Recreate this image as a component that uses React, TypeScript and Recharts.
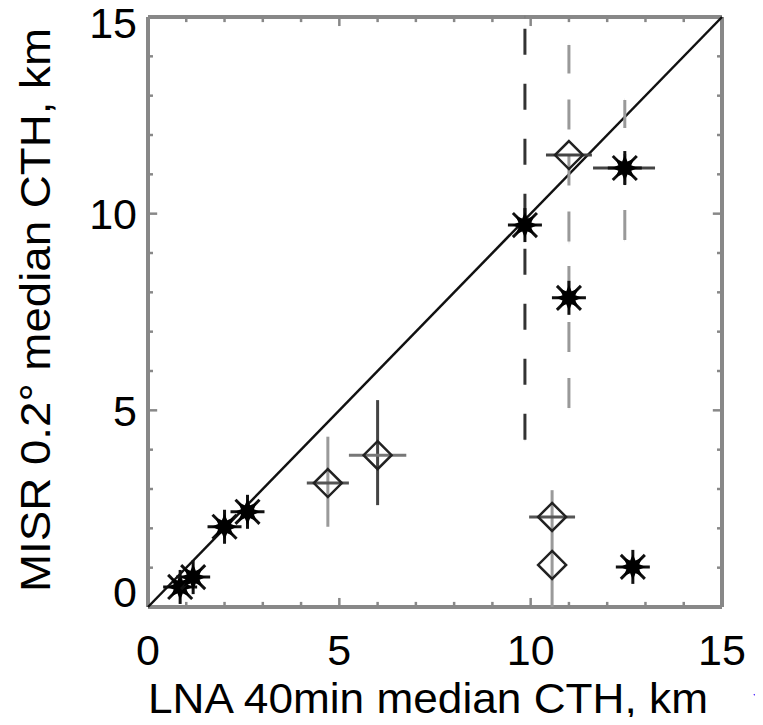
import React from "react";
import { ScatterChart, Scatter, XAxis, YAxis, ErrorBar, ReferenceLine, Label } from "recharts";

// asterisks without error bars (LNA x, MISR y, km)
const starLna = [0.84, 1.18, 2.0, 2.6, 12.67];
const starMisr = [0.51, 0.76, 2.04, 2.42, 1.02];

// asterisks with error bars
const barStarLna = [9.85, 11.0, 12.46];
const barStarMisr = [9.71, 7.86, 11.16];
const barStarLow = [5.46, 2.8, 1.83];
const barStarHigh = [5.29, 1.4, 1.73];
const barStarXLow = [0, 0, 0.83];
const barStarXHigh = [0, 0, 0.79];

// diamonds
const diamondLna = [4.7, 6.0, 11.0, 10.56, 10.56];
const diamondMisr = [3.15, 3.86, 11.49, 2.29, 1.07];
const diamondLow = [1.11, 1.27, 2.2, 0.51, 1.07];
const diamondHigh = [1.18, 1.4, 2.8, 0.68, 0.71];
const diamondXErr = [0.55, 0.75, 0.6, 0.6, 0];

const labelTicks = [0, 5, 10, 15];
const allTicks = [0, 1, 2, 3, 4, 5, 6, 7, 8, 9, 10, 11, 12, 13, 14, 15];

const font = "'Liberation Sans', Arial, sans-serif";
const axisGrey = "#888";

const stars = starLna.map((x, i) => ({ x, y: starMisr[i] }));
const barStars = barStarLna.map((x, i) => ({
  x,
  y: barStarMisr[i],
  ey: [barStarLow[i], barStarHigh[i]],
  ex: [barStarXLow[i], barStarXHigh[i]],
}));
const diamonds = diamondLna.map((x, i) => ({
  x,
  y: diamondMisr[i],
  ey: [diamondLow[i], diamondHigh[i]],
  ex: [diamondXErr[i], diamondXErr[i]],
}));

function Asterisk(props) {
  const { cx, cy } = props;
  const r = 17;
  const d = r * 0.7071;
  // filled 8-point star core
  const pts = [];
  for (let k = 0; k < 16; k++) {
    const a = (Math.PI / 8) * k;
    const rr = k % 2 === 0 ? 13 : 7;
    pts.push(`${cx + rr * Math.cos(a)},${cy + rr * Math.sin(a)}`);
  }
  return (
    <g>
      <line x1={cx - r} y1={cy} x2={cx + r} y2={cy} stroke="#111" strokeWidth={3} />
      <line x1={cx} y1={cy - r} x2={cx} y2={cy + r} stroke="#111" strokeWidth={3} />
      <line x1={cx - d} y1={cy - d} x2={cx + d} y2={cy + d} stroke="#111" strokeWidth={3} />
      <line x1={cx - d} y1={cy + d} x2={cx + d} y2={cy - d} stroke="#111" strokeWidth={3} />
      <polygon points={pts.join(" ")} fill="#000" />
    </g>
  );
}

function Diamond(props) {
  const { cx, cy } = props;
  const r = 14;
  return (
    <polygon
      points={`${cx},${cy - r} ${cx + r},${cy} ${cx},${cy + r} ${cx - r},${cy}`}
      fill="none"
      stroke="#222"
      strokeWidth={2.5}
    />
  );
}

function XTick(props) {
  const { x, y, payload } = props;
  return (
    <text x={x} y={y + 58} textAnchor="middle" fontFamily={font} fontSize={43} fill="#000">
      {payload.value}
    </text>
  );
}

function YTick(props) {
  const { x, y, payload } = props;
  let shift = 0;
  if (payload.value === 0) shift = -16;
  if (payload.value === 15) shift = 5;
  return (
    <text x={x - 11} y={y + 15.5 + shift} textAnchor="end" fontFamily={font} fontSize={43} fill="#000">
      {payload.value}
    </text>
  );
}

function XTitle(props) {
  const { viewBox } = props;
  return (
    <g>
      <text
        x={viewBox.x}
        y={viewBox.y + 106}
        fontFamily={font}
        fontSize={43}
        fill="#000"
        textLength={560}
        lengthAdjust="spacingAndGlyphs"
      >
        LNA 40min median CTH, km
      </text>
      <text x={753} y={699} fontFamily={font} fontSize={16} fill="#1f3fff">
        ◂
      </text>
    </g>
  );
}

function YTitle() {
  return (
    <text
      transform="translate(50,592) rotate(-90)"
      x={0}
      y={0}
      fontFamily={font}
      fontSize={43}
      fill="#000"
      textLength={564}
      lengthAdjust="spacingAndGlyphs"
    >
      MISR 0.2° median CTH, km
    </text>
  );
}

export default function App() {
  return (
    <div style={{ margin: -8, width: 763, height: 725, background: "#fff" }}>
      <ScatterChart width={763} height={725} margin={{ top: 17, right: 41, bottom: 58, left: 48 }}>
        <XAxis
          type="number"
          dataKey="x"
          domain={[0, 15]}
          ticks={labelTicks}
          interval={0}
          allowDataOverflow
          axisLine={false}
          tickLine={false}
          tickSize={0}
          tickMargin={0}
          height={60}
          tick={XTick}
        >
          <Label content={XTitle} />
        </XAxis>
        <YAxis
          type="number"
          dataKey="y"
          domain={[0, 15]}
          ticks={labelTicks}
          interval={0}
          allowDataOverflow
          axisLine={false}
          tickLine={false}
          tickSize={0}
          tickMargin={0}
          width={100}
          tick={YTick}
        >
          <Label content={YTitle} />
        </YAxis>

        {/* box */}
        <ReferenceLine x={0} stroke={axisGrey} strokeWidth={4} />
        <ReferenceLine x={15} stroke={axisGrey} strokeWidth={4} />
        <ReferenceLine y={0} stroke={axisGrey} strokeWidth={4} />
        <ReferenceLine y={15} stroke={axisGrey} strokeWidth={4} />

        {/* inward ticks on all four sides */}
        {allTicks.map((t) => {
          const major = t % 5 === 0;
          const lx = major ? 0.24 : 0.13;
          const ly = major ? 0.23 : 0.13;
          return (
            <React.Fragment key={"t" + t}>
              <ReferenceLine segment={[{ x: t, y: 0 }, { x: t, y: ly }]} stroke={axisGrey} strokeWidth={2.5} />
              <ReferenceLine segment={[{ x: t, y: 15 }, { x: t, y: 15 - ly }]} stroke={axisGrey} strokeWidth={2.5} />
              <ReferenceLine segment={[{ x: 0, y: t }, { x: lx, y: t }]} stroke={axisGrey} strokeWidth={2.5} />
              <ReferenceLine segment={[{ x: 15, y: t }, { x: 15 - lx, y: t }]} stroke={axisGrey} strokeWidth={2.5} />
            </React.Fragment>
          );
        })}

        {/* 1:1 line */}
        <ReferenceLine segment={[{ x: 0, y: 0 }, { x: 15, y: 15 }]} stroke="#111" strokeWidth={2.5} />

        {/* diamonds, grey solid bars */}
        <Scatter data={[diamonds[0], diamonds[3], diamonds[4]]} shape={Diamond} isAnimationActive={false}>
          <ErrorBar dataKey="ey" direction="y" width={0} stroke="#9a9a9a" strokeWidth={3} />
          <ErrorBar dataKey="ex" direction="x" width={0} stroke="#555" strokeWidth={3} />
        </Scatter>
        {/* diamond, dark bars */}
        <Scatter data={[diamonds[1]]} shape={Diamond} isAnimationActive={false}>
          <ErrorBar dataKey="ey" direction="y" width={0} stroke="#444" strokeWidth={3} />
          <ErrorBar dataKey="ex" direction="x" width={0} stroke="#777" strokeWidth={3} />
        </Scatter>
        {/* diamond, dashed grey bar */}
        <Scatter data={[diamonds[2]]} shape={Diamond} isAnimationActive={false}>
          <ErrorBar dataKey="ey" direction="y" width={0} stroke="#999" strokeWidth={3} strokeDasharray="30 26" />
          <ErrorBar dataKey="ex" direction="x" width={0} stroke="#444" strokeWidth={3} />
        </Scatter>

        {/* asterisk, dashed black bar */}
        <Scatter data={[barStars[0]]} shape={Asterisk} isAnimationActive={false}>
          <ErrorBar dataKey="ey" direction="y" width={0} stroke="#333" strokeWidth={3} strokeDasharray="26 29" />
        </Scatter>
        {/* asterisks, dashed grey bars */}
        <Scatter data={[barStars[1], barStars[2]]} shape={Asterisk} isAnimationActive={false}>
          <ErrorBar dataKey="ey" direction="y" width={0} stroke="#999" strokeWidth={3} strokeDasharray="30 26" />
          <ErrorBar dataKey="ex" direction="x" width={0} stroke="#444" strokeWidth={3} />
        </Scatter>

        <Scatter data={stars} shape={Asterisk} isAnimationActive={false} />
      </ScatterChart>
    </div>
  );
}
